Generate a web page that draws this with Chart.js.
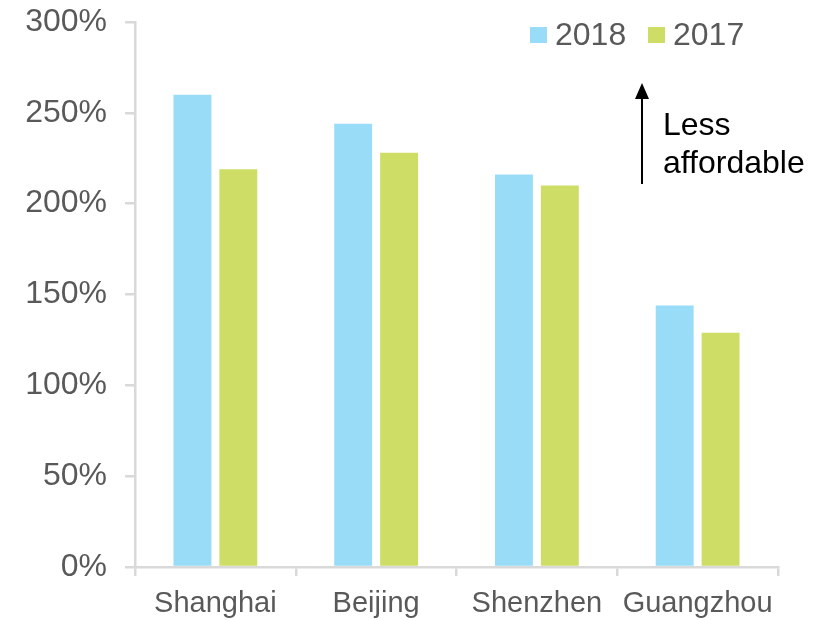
<!DOCTYPE html>
<html>
<head>
<meta charset="utf-8">
<script src="https://cdn.jsdelivr.net/npm/chart.js@4"></script>
<style>
    html, body { margin: 0; padding: 0; background: #fff; }
    #wrap { width: 828px; height: 620px; }
</style>
</head>
<body>
<div id="wrap"><canvas id="chart" width="828" height="620"></canvas></div>
<script>
// City housing affordability ratio, 2018 vs 2017
const cities = ['Shanghai', 'Beijing', 'Shenzhen', 'Guangzhou'];
const values2018 = [260, 244, 216, 144];
const values2017 = [219, 228, 210, 129];
const yTicks = [0, 50, 100, 150, 200, 250, 300];

const BLUE = '#99dcf8';
const GREEN = '#cedd65';
const TEXT = '#595959';
const AXIS = '#d9d9d9';
const FONT = "'Liberation Sans', Arial, sans-serif";

// legend drawn in the top right corner of the plot, plus the arrow note
const overlay = {
    id: 'overlay',
    afterDraw(chart) {
        const ctx = chart.ctx;
        ctx.save();
        ctx.font = '32px ' + FONT;
        ctx.textBaseline = 'middle';
        let x = 530;
        const y = 35;
        chart.data.datasets.forEach(ds => {
            ctx.fillStyle = ds.backgroundColor;
            ctx.fillRect(x, y - 8, 17, 16);
            ctx.fillStyle = TEXT;
            ctx.fillText(ds.label, x + 25, y + 1);
            x += 118;
        });

        // arrow
        ctx.strokeStyle = '#000';
        ctx.fillStyle = '#000';
        ctx.lineWidth = 2;
        ctx.beginPath();
        ctx.moveTo(642, 184);
        ctx.lineTo(642, 94);
        ctx.stroke();
        ctx.beginPath();
        ctx.moveTo(642, 83);
        ctx.lineTo(635, 99);
        ctx.lineTo(649, 99);
        ctx.closePath();
        ctx.fill();

        ctx.font = '32px ' + FONT;
        ctx.textBaseline = 'alphabetic';
        ctx.fillText('Less', 663, 135);
        ctx.fillText('affordable', 663, 173);
        ctx.restore();
    }
};

new Chart(document.getElementById('chart'), {
    type: 'bar',
    data: {
        labels: cities,
        datasets: [
            { label: '2018', data: values2018, backgroundColor: BLUE },
            { label: '2017', data: values2017, backgroundColor: GREEN }
        ]
    },
    options: {
        responsive: false,
        animation: false,
        layout: { padding: { top: 22, right: 50, left: 0, bottom: 0 } },
        datasets: {
            bar: { categoryPercentage: 0.571, barPercentage: 0.826 }
        },
        plugins: {
            legend: { display: false },
            tooltip: { enabled: false }
        },
        scales: {
            x: {
                grid: {
                    drawOnChartArea: false,
                    color: AXIS,
                    lineWidth: 2.5,
                    tickLength: 9
                },
                border: { color: AXIS, width: 2.5 },
                ticks: {
                    color: TEXT,
                    font: { family: FONT, size: 29 },
                    padding: 11,
                    maxRotation: 0
                },
                afterFit(scale) { scale.height = 53; }
            },
            y: {
                min: 0,
                max: 300,
                afterBuildTicks(scale) {
                    scale.ticks = yTicks.map(v => ({ value: v }));
                },
                grid: {
                    drawOnChartArea: false,
                    color: AXIS,
                    lineWidth: 2.5,
                    tickLength: 10
                },
                border: { color: AXIS, width: 2.5 },
                ticks: {
                    color: TEXT,
                    font: { family: FONT, size: 32 },
                    padding: 18,
                    callback: v => v + '%'
                },
                afterFit(scale) {
                    scale.width = 135;
                    // let the top label overflow into the page margin
                    scale.paddingTop = 0;
                    scale.paddingBottom = 0;
                }
            }
        }
    },
    plugins: [overlay]
});
</script>
</body>
</html>
